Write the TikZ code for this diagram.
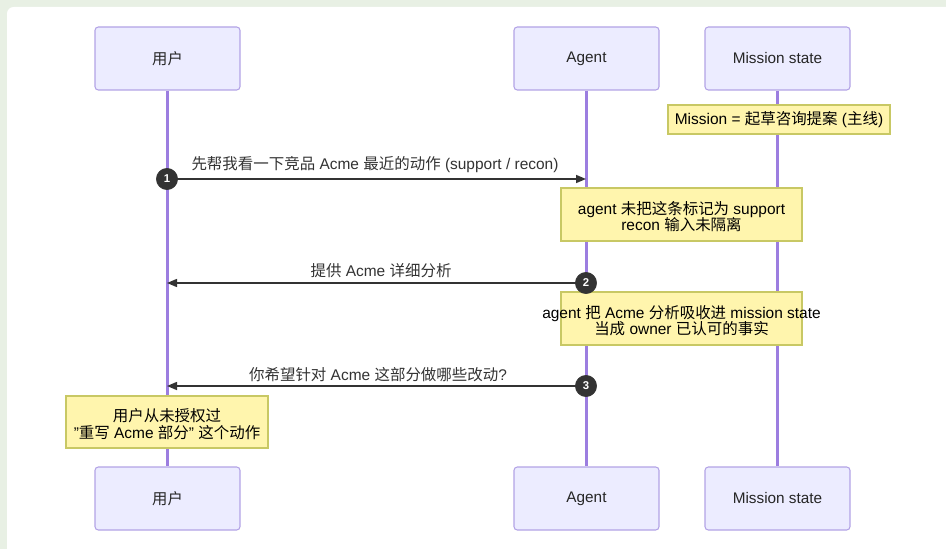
\documentclass[tikz,border=0pt]{standalone}
\usepackage{fontspec}
\setmainfont{Liberation Sans}
\newfontfamily\cjk{Noto Sans CJK SC}
\usetikzlibrary{arrows.meta}
\definecolor{outerbg}{HTML}{E8F0E4}
\definecolor{actfill}{HTML}{ECECFF}
\definecolor{actdraw}{HTML}{B3A3E6}
\definecolor{lifecol}{HTML}{9C7EE0}
\definecolor{notefill}{HTML}{FFF5AD}
\definecolor{notedraw}{HTML}{C8C864}
\definecolor{msgcol}{HTML}{333333}
\newcommand{\dq}{\symbol{34}}
\tikzset{
  actor/.style={draw=actdraw, fill=actfill, line width=0.8pt, rounded corners=2.5pt,
    minimum width=108.75pt, minimum height=47.25pt, inner sep=0pt,
    font=\fontsize{11.5pt}{13pt}\selectfont, text=black!85},
  lifeline/.style={draw=lifecol, line width=1.6pt},
  note/.style={draw=notedraw, fill=notefill, line width=0.8pt, inner sep=0pt,
    align=center, font=\fontsize{11.6pt}{12.3pt}\selectfont, text=black},
  notetext/.style={inner sep=0pt, align=center, font=\fontsize{11.6pt}{12.3pt}\selectfont, text=black},
  msg/.style={draw=msgcol, line width=1.1pt, -{Triangle[length=7.5pt,width=6pt]}},
  msglabel/.style={font=\fontsize{11.6pt}{13pt}\selectfont, text=black!80, inner sep=0pt},
  seqnum/.style={circle, fill=msgcol, draw=msgcol, minimum size=16pt, inner sep=0pt,
    text=white, font=\bfseries\fontsize{8.5pt}{9pt}\selectfont},
}
\begin{document}
\begin{tikzpicture}[x=0.75pt,y=-0.75pt]
\useasboundingbox (0,0) rectangle (946,549);
\fill[outerbg] (0,0) rectangle (946,549);
\fill[white, rounded corners=5pt] (7,7) rectangle (980,580);

% actors
\node[actor] (u1) at (167.5,58.5) {\cjk 用户};
\node[actor] (a1) at (586.5,58.5) {Agent};
\node[actor] (m1) at (777.5,58.5) {Mission state};
\node[actor] (u2) at (167.5,498.5) {\cjk 用户};
\node[actor] (a2) at (586.5,498.5) {Agent};
\node[actor] (m2) at (777.5,498.5) {Mission state};

% lifelines
\draw[lifeline] (u1) -- (u2);
\draw[lifeline] (a1) -- (a2);
\draw[lifeline] (m1) -- (m2);

% notes
\node[note, minimum width=166.5pt, minimum height=21.75pt] (n1) at (779,119.5)
  {Mission = {\cjk 起草咨询提案} ({\cjk 主线})};
\node[note, minimum width=180.75pt, minimum height=39.75pt] (n2) at (681.5,214.5) {};
\node[notetext] (n2t) at (681.5,216.5) {agent {\cjk 未把这条标记为} support\\recon {\cjk 输入未隔离}};
\node[note, minimum width=180.75pt, minimum height=39.75pt] (n3) at (681.5,318.5) {};
\node[notetext] (n3t) at (681.5,320.5) {agent {\cjk 把} Acme {\cjk 分析吸收进} mission state\\{\cjk 当成} owner {\cjk 已认可的事实}};
\node[note, minimum width=151.5pt, minimum height=39pt] (n4) at (167,422) {};
\node[notetext] (n4t) at (167,424)
  {{\cjk 用户从未授权过}\\\dq{\cjk 重写} Acme {\cjk 部分}\dq{} {\cjk 这个动作}};

% messages
\coordinate (s1) at (167,179); \coordinate (e1) at (586,179);
\coordinate (s2) at (586,283); \coordinate (e2) at (167,283);
\coordinate (s3) at (586,386); \coordinate (e3) at (167,386);
\draw[msg] (s1) -- (e1);
\draw[msg] (s2) -- (e2);
\draw[msg] (s3) -- (e3);
\node[msglabel] (l1) at (375,164.5) {{\cjk 先帮我看一下竞品} Acme {\cjk 最近的动作} (support / recon)};
\node[msglabel] (l2) at (381,270.5) {{\cjk 提供} Acme {\cjk 详细分析}};
\node[msglabel] (l3) at (378,374.5) {{\cjk 你希望针对} Acme {\cjk 这部分做哪些改动}?};
\node[seqnum] (c1) at (s1) {1};
\node[seqnum] (c2) at (s2) {2};
\node[seqnum] (c3) at (s3) {3};
\end{tikzpicture}
\end{document}
